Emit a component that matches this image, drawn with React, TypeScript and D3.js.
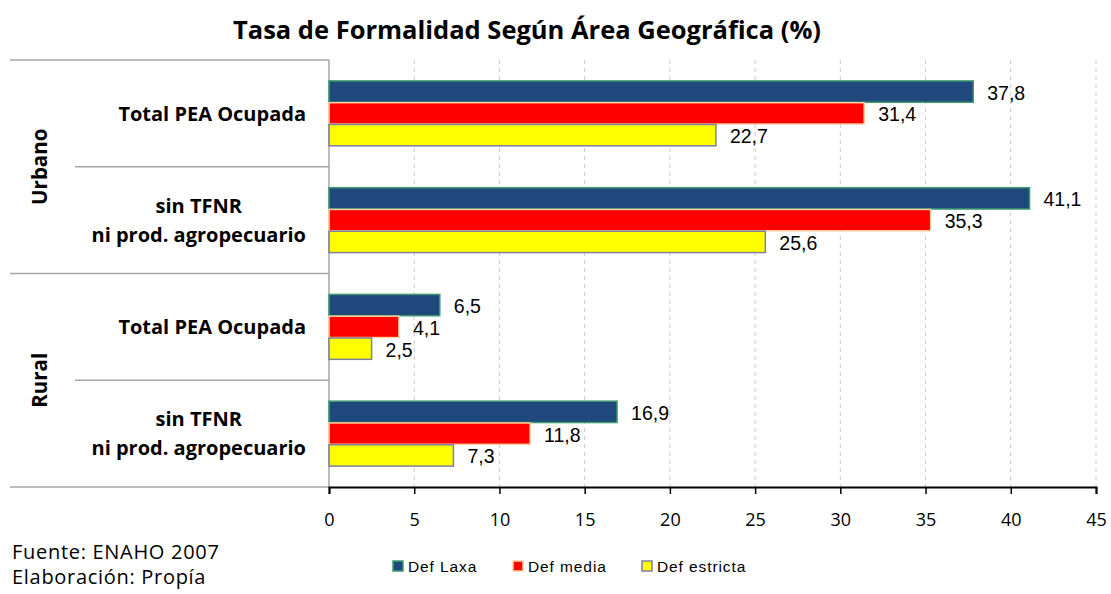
import { useEffect, useRef } from 'react'
import * as d3 from 'd3'

const categories = ['u_total', 'u_sin', 'r_total', 'r_sin']
const categoryLines = [
  ['Total PEA Ocupada'],
  ['sin TFNR', 'ni prod. agropecuario'],
  ['Total PEA Ocupada'],
  ['sin TFNR', 'ni prod.  agropecuario'],
]
const areas = ['Urbano', 'Rural']
const seriesNames = ['Def Laxa', 'Def media', 'Def estricta']
const defLaxa = [37.8, 41.1, 6.5, 16.9]
const defMedia = [31.4, 35.3, 4.1, 11.8]
const defEstricta = [22.7, 25.6, 2.5, 7.3]
const xTicks = [0, 5, 10, 15, 20, 25, 30, 35, 40, 45]
const fills = ['#1f497d', '#ff0000', '#ffff00']
const strokes = ['#3c9a6e', '#ffd0a0', '#7f7f9f']

const labelFont = '"Open Sans", Lato, sans-serif'
const valueFont = '"Liberation Sans", Arial, sans-serif'

const App = () => {
  const ref = useRef<SVGSVGElement>(null)
  const width = 1111
  const height = 594

  useEffect(() => {
    if (!ref.current) return
    const svg = d3.select(ref.current)
    svg.selectAll('*').remove()

    const left = 329
    const right = 1096
    const top = 60
    const bottom = 487
    const series = [defLaxa, defMedia, defEstricta]

    const x = d3.scaleLinear().domain([0, 45]).range([left, right])
    const y = d3.scaleBand<string>().domain(categories).range([top, bottom])
    const inner = d3.scaleBand<number>()
      .domain([0, 1, 2])
      .range([0, y.bandwidth()])
      .paddingOuter(0.96)
      .paddingInner(0.02)

    svg.append('text')
      .attr('x', 527).attr('y', 39)
      .attr('text-anchor', 'middle')
      .style('font-family', labelFont)
      .style('font-weight', 'bold')
      .style('font-size', '25.5px')
      .text('Tasa de Formalidad  Según Área Geográfica (%)')

    // grid
    svg.append('g').selectAll('line')
      .data(xTicks.slice(1))
      .enter().append('line')
      .attr('x1', d => x(d)).attr('x2', d => x(d))
      .attr('y1', top).attr('y2', bottom)
      .attr('stroke', '#c8c8c8')
      .attr('stroke-dasharray', '4,4')

    // category dividers
    const dividers = [
      { yv: top, x1: 10 },
      { yv: y('u_sin')!, x1: 75 },
      { yv: y('r_total')!, x1: 10 },
      { yv: y('r_sin')!, x1: 75 },
      { yv: bottom, x1: 10 },
    ]
    svg.append('g').selectAll('line')
      .data(dividers)
      .enter().append('line')
      .attr('x1', d => d.x1).attr('x2', left)
      .attr('y1', d => d.yv).attr('y2', d => d.yv)
      .attr('stroke', '#a6a6a6')
      .attr('stroke-width', 1.5)

    svg.append('line')
      .attr('x1', left).attr('x2', left)
      .attr('y1', top).attr('y2', bottom)
      .attr('stroke', '#a6a6a6')
      .attr('stroke-width', 1.5)

    // bars
    series.forEach((vals, s) => {
      svg.append('g').selectAll('rect')
        .data(vals)
        .enter().append('rect')
        .attr('x', x(0))
        .attr('y', (d, i) => y(categories[i])! + inner(s)!)
        .attr('width', d => x(d) - x(0))
        .attr('height', inner.bandwidth())
        .attr('fill', fills[s])
        .attr('stroke', strokes[s])
        .attr('stroke-width', 1.5)

      svg.append('g').selectAll('text')
        .data(vals)
        .enter().append('text')
        .attr('x', d => x(d) + 14)
        .attr('y', (d, i) => y(categories[i])! + inner(s)! + inner.bandwidth() / 2 + 1)
        .attr('dy', '0.36em')
        .style('font-family', valueFont)
        .style('font-size', '19.5px')
        .text(d => d.toFixed(1).replace('.', ','))
    })

    // category labels: block right-aligned, lines centred within block
    categoryLines.forEach((lines, i) => {
      const cy = y(categories[i])! + y.bandwidth() / 2
      const tspans = lines.map((l, j) =>
        svg.append('text')
          .attr('y', cy + (j - (lines.length - 1) / 2) * 29)
          .attr('dy', '0.36em')
          .attr('text-anchor', 'middle')
          .style('font-family', labelFont)
          .style('font-weight', 'bold')
          .style('font-size', '20px')
          .text(l)
      )
      const widths = tspans.map(t => (t.node() as SVGTextElement).getComputedTextLength())
      const blockW = d3.max(widths) || 0
      tspans.forEach(t => t.attr('x', 306 - blockW / 2))
    })

    // area labels
    areas.forEach((a, i) => {
      const cy = top + (bottom - top) / 4 * (2 * i + 1)
      svg.append('text')
        .attr('transform', `translate(47,${cy}) rotate(-90)`)
        .attr('text-anchor', 'middle')
        .style('font-family', labelFont)
        .style('font-weight', 'bold')
        .style('font-size', '20.5px')
        .text(a)
    })

    // x axis
    const axis = svg.append('g')
      .attr('transform', `translate(0,${bottom})`)
      .call(d3.axisBottom(x).tickValues(xTicks).tickSize(7).tickFormat(d => String(d)))
    axis.select('.domain').attr('stroke', '#000').attr('stroke-width', 2)
    axis.selectAll('.tick line').attr('stroke', '#000').attr('stroke-width', 1.5)
    axis.selectAll('.tick text')
      .attr('y', 26)
      .style('font-family', labelFont)
      .style('font-size', '18px')
      .attr('fill', '#000')

    // legend
    const legendX = [393, 513, 642]
    seriesNames.forEach((n, i) => {
      svg.append('rect')
        .attr('x', legendX[i]).attr('y', 561)
        .attr('width', 10).attr('height', 10)
        .attr('fill', fills[i])
        .attr('stroke', strokes[i])
        .attr('stroke-width', 1.5)
      svg.append('text')
        .attr('x', legendX[i] + 15).attr('y', 566)
        .attr('dy', '0.36em')
        .style('font-family', valueFont)
        .style('font-size', '15.5px')
        .style('letter-spacing', '0.9px')
        .text(n)
    })

    // footnote
    const notes = ['Fuente: ENAHO 2007', 'Elaboración: Propía']
    notes.forEach((n, i) => {
      svg.append('text')
        .attr('x', 12).attr('y', 559 + i * 25)
        .style('font-family', labelFont)
        .style('font-size', '20px')
        .style('letter-spacing', '0.7px')
        .text(n)
    })
  }, [])

  return (
    <svg ref={ref} width={width} height={height} style={{ position: 'absolute', left: 0, top: 0 }} />
  )
}

export default App
